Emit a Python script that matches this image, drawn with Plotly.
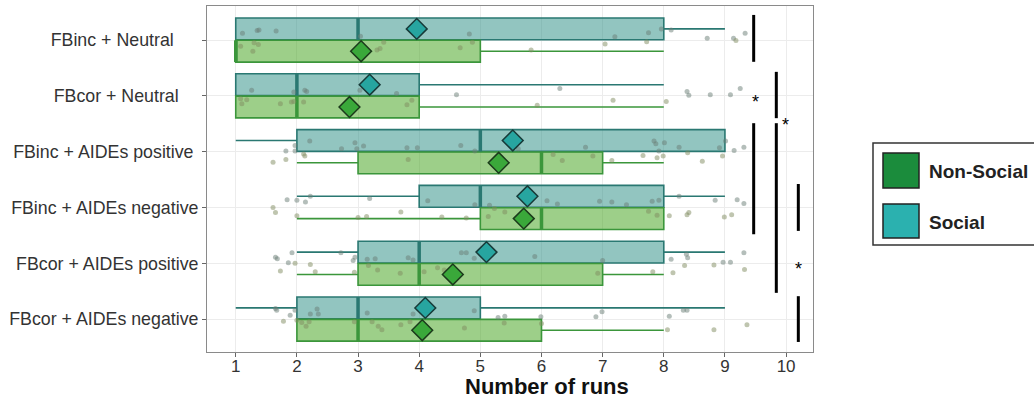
import plotly.graph_objects as go

# ---------------- data ----------------
categories = ["FBinc + Neutral", "FBcor + Neutral", "FBinc + AIDEs positive",
              "FBinc + AIDEs negative", "FBcor + AIDEs positive", "FBcor + AIDEs negative"]
label_pad = [5, 4, 1, 0, 0, 0]  # trailing blank padding seen in the original labels

social_q1 = [1, 1, 2, 4, 3, 2]
social_med = [3, 2, 5, 5, 4, 3]
social_q3 = [8, 4, 9, 8, 8, 5]
social_lo = [1, 1, 1, 2, 2, 1]
social_hi = [9, 8, 9, 9, 9, 9]
social_mean = [3.96, 3.19, 5.53, 5.77, 5.10, 4.10]

nonsocial_q1 = [1, 1, 3, 5, 3, 2]
nonsocial_med = [1, 2, 6, 6, 4, 3]
nonsocial_q3 = [5, 4, 7, 8, 7, 6]
nonsocial_lo = [1, 1, 2, 2, 2, 2]
nonsocial_hi = [8, 8, 8, 8, 8, 8]
nonsocial_mean = [3.05, 2.86, 5.30, 5.71, 4.55, 4.05]

# jittered raw observations (x value, vertical jitter relative to category centre)
point_x = [
    [1.11, 1.35, 1.38, 1.66, 3.04, 4.82, 7.20, 7.75, 7.96, 8.12, 8.71, 9.14, 9.18, 9.33,
     1.08, 1.30, 1.37, 1.28, 3.42, 3.31, 3.36, 4.67, 4.87, 5.83, 7.04, 7.72],
    [1.26, 1.95, 2.13, 2.16, 3.03, 3.63, 4.61, 6.30, 8.38, 8.41, 8.76, 9.09, 9.25,
     1.08, 1.18, 1.10, 1.73, 1.91, 1.95, 2.11, 3.80, 3.88, 5.93, 7.17, 8.04],
    [1.97, 2.21, 2.73, 2.95, 2.98, 3.09, 3.80, 3.97, 4.68, 4.91, 5.62, 6.72, 7.84, 7.87,
     8.01, 8.25, 8.91, 9.01, 9.15, 9.31, 1.61, 1.82, 1.82, 1.97, 2.11, 2.13, 3.82, 6.19,
     6.34, 6.84, 7.15, 7.66, 7.89, 7.92, 7.99, 8.39, 8.63, 8.96],
    [1.84, 2.00, 2.14, 2.22, 3.19, 4.14, 4.91, 5.15, 5.23, 6.09, 6.26, 6.95, 7.15, 7.39,
     7.81, 7.92, 8.25, 8.84, 9.20, 9.31, 1.61, 1.65, 2.00, 3.00, 3.14, 3.70, 4.37, 4.77,
     5.13, 5.40, 7.75, 7.89, 8.09, 8.38, 8.41, 8.99, 9.11],
    [1.65, 1.68, 1.92, 1.86, 1.97, 2.72, 2.92, 2.95, 3.15, 3.28, 3.82, 3.90, 4.69, 4.77,
     4.90, 5.89, 7.00, 8.12, 8.37, 8.39, 8.82, 8.97, 9.09, 9.31, 1.73, 2.22, 2.30, 2.94,
     3.17, 3.32, 3.69, 4.08, 4.30, 4.41, 6.92, 7.82, 8.15, 8.34, 9.32],
    [1.65, 1.67, 1.89, 1.97, 2.22, 2.33, 2.35, 3.15, 3.90, 4.90, 5.29, 5.40, 5.99, 6.89,
     6.99, 8.09, 8.32, 8.38, 1.78, 2.00, 2.08, 2.15, 2.20, 2.94, 3.23, 3.33, 3.39, 3.70,
     3.85, 4.74, 5.39, 6.00, 8.06, 8.82, 9.36],
]
point_dy = [
    [-0.12, -0.17, -0.18, -0.16, -0.07, -0.11, -0.06, -0.13, -0.20, -0.18, -0.03, -0.03, 0.01, -0.12,
     0.11, 0.05, 0.08, 0.20, 0.04, 0.18, 0.15, 0.14, 0.04, 0.18, 0.07, 0.03],
    [-0.10, -0.07, -0.10, -0.08, -0.10, -0.04, -0.02, -0.13, -0.08, -0.01, -0.02, -0.02, -0.13,
     0.05, 0.07, 0.14, 0.14, 0.11, 0.10, 0.11, 0.16, 0.08, 0.17, 0.08, 0.10],
    [-0.11, -0.19, -0.05, -0.16, -0.05, -0.10, -0.07, -0.07, -0.11, -0.01, -0.05, -0.08, -0.19, -0.14,
     -0.16, -0.08, -0.07, -0.19, -0.02, -0.08, 0.19, -0.01, 0.14, -0.01, 0.04, 0.08, 0.14, 0.05,
     0.16, 0.08, 0.16, 0.07, 0.11, -0.01, 0.08, 0.02, 0.17, 0.08],
    [-0.14, -0.13, -0.10, -0.20, -0.16, -0.12, -0.05, -0.04, 0.02, -0.12, -0.06, -0.11, -0.10, -0.05,
     -0.11, -0.13, -0.20, -0.13, -0.14, -0.07, 0.00, 0.09, 0.15, 0.18, 0.16, 0.08, 0.17, 0.19,
     0.16, 0.08, 0.07, 0.14, 0.15, 0.13, 0.09, 0.17, 0.13],
    [-0.11, -0.08, -0.19, -0.01, 0.00, -0.19, -0.05, -0.11, -0.07, -0.08, -0.10, -0.06, -0.19, -0.19,
     -0.09, -0.12, -0.05, -0.07, -0.16, -0.10, 0.03, -0.02, -0.02, -0.19, 0.14, 0.02, 0.15, 0.16,
     0.04, 0.12, 0.18, 0.15, 0.08, 0.12, 0.18, 0.15, 0.17, 0.04, 0.11],
    [-0.19, -0.16, -0.07, -0.16, -0.09, -0.18, -0.09, -0.11, -0.09, -0.15, -0.03, -0.05, -0.04, -0.04,
     -0.13, -0.05, -0.16, -0.16, 0.04, 0.02, 0.06, 0.13, 0.05, 0.05, 0.05, 0.13, 0.19, 0.10,
     0.05, 0.16, 0.07, 0.08, 0.19, 0.19, 0.10],
]

# significance bars: x position, y start, y end (in category units)
sig_bar_x = [9.47, 9.47, 9.84, 9.84, 10.20, 10.20]
sig_bar_y0 = [-0.45, 1.49, 0.57, 1.49, 2.58, 4.59]
sig_bar_y1 = [0.39, 3.48, 1.40, 4.53, 3.42, 5.41]
sig_star_x = [9.50, 9.99, 10.20]
sig_star_y = [1.04, 1.45, 4.03]

x_ticks = [1, 2, 3, 4, 5, 6, 7, 8, 9, 10]

# ---------------- style ----------------
FONT = "Liberation Sans, Arial, Helvetica, sans-serif"
SOC_FILL = "rgba(38,140,130,0.5)"
SOC_LINE = "#2a7872"
SOC_MEAN = "#27a5a0"
NS_FILL = "rgba(60,160,20,0.5)"
NS_LINE = "#3b963b"
NS_MEAN = "#3aa83a"
OFF = 0.2
BOXW = 0.39

W, H = 1034, 400
ML, MR, MT, MB = 207, 221, 6, 48
PW, PH = W - ML - MR, H - MT - MB

def px(xp):
    return (xp - ML) / PW

def py(yp):
    return (H - MB - yp) / PH

n = len(categories)
soc_pos = [i - OFF for i in range(n)]
ns_pos = [i + OFF for i in range(n)]

fig = go.Figure()

for pos, q1, med, q3, lo, hi, fill, line in [
    (soc_pos, social_q1, social_med, social_q3, social_lo, social_hi, SOC_FILL, SOC_LINE),
    (ns_pos, nonsocial_q1, nonsocial_med, nonsocial_q3, nonsocial_lo, nonsocial_hi, NS_FILL, NS_LINE),
]:
    fig.add_trace(go.Box(
        orientation="h", y=pos, q1=q1, median=med, q3=q3,
        lowerfence=lo, upperfence=hi, width=BOXW, whiskerwidth=0,
        fillcolor=fill, line=dict(color=line, width=1.6),
        boxpoints=False, showlegend=False, hoverinfo="skip",
    ))
    # thicker median bars
    mx, my = [], []
    for p, m in zip(pos, med):
        mx += [m, m, None]
        my += [p - BOXW / 2, p + BOXW / 2, None]
    fig.add_trace(go.Scatter(x=mx, y=my, mode="lines",
                             line=dict(color=line, width=3.5),
                             showlegend=False, hoverinfo="skip"))

# jittered points
sx, sy, nx, ny = [], [], [], []
for i in range(n):
    for xv, dv in zip(point_x[i], point_dy[i]):
        if dv < 0:
            sx.append(xv); sy.append(i + dv)
        else:
            nx.append(xv); ny.append(i + dv)
fig.add_trace(go.Scatter(x=sx, y=sy, mode="markers",
                         marker=dict(size=5, color="rgba(105,125,118,0.5)"),
                         showlegend=False, hoverinfo="skip"))
fig.add_trace(go.Scatter(x=nx, y=ny, mode="markers",
                         marker=dict(size=5, color="rgba(128,140,95,0.5)"),
                         showlegend=False, hoverinfo="skip"))

# means
fig.add_trace(go.Scatter(x=social_mean, y=soc_pos, mode="markers",
                         marker=dict(symbol="diamond", size=16, color=SOC_MEAN,
                                     line=dict(color="#173a38", width=1.5)),
                         showlegend=False, hoverinfo="skip"))
fig.add_trace(go.Scatter(x=nonsocial_mean, y=ns_pos, mode="markers",
                         marker=dict(symbol="diamond", size=16, color=NS_MEAN,
                                     line=dict(color="#1b3a1b", width=1.5)),
                         showlegend=False, hoverinfo="skip"))

shapes = []
for xv, y0, y1 in zip(sig_bar_x, sig_bar_y0, sig_bar_y1):
    shapes.append(dict(type="line", xref="x", yref="y", x0=xv, x1=xv, y0=y0, y1=y1,
                       line=dict(color="black", width=3)))

annotations = []
for xv, yv in zip(sig_star_x, sig_star_y):
    annotations.append(dict(x=xv, y=yv, xref="x", yref="y", text="*", showarrow=False,
                            font=dict(family=FONT, size=18, color="black"), yshift=-4))

# custom legend
shapes.append(dict(type="rect", xref="paper", yref="paper",
                   x0=px(873), x1=px(1045), y0=py(245), y1=py(143),
                   line=dict(color="#333333", width=1.5), fillcolor="white", layer="below"))
shapes.append(dict(type="rect", xref="paper", yref="paper",
                   x0=px(883), x1=px(919), y0=py(188), y1=py(153),
                   line=dict(color="#222222", width=1.5), fillcolor="#1b8c3c"))
shapes.append(dict(type="rect", xref="paper", yref="paper",
                   x0=px(883), x1=px(919), y0=py(238), y1=py(204),
                   line=dict(color="#222222", width=1.5), fillcolor="#2bb1af"))
annotations.append(dict(x=px(927), y=py(171), xref="paper", yref="paper", text="<b>Non-Social</b>",
                        showarrow=False, xanchor="left", yanchor="middle",
                        font=dict(family=FONT, size=19, color="#222222")))
annotations.append(dict(x=px(927), y=py(222), xref="paper", yref="paper", text="<b>Social</b>",
                        showarrow=False, xanchor="left", yanchor="middle",
                        font=dict(family=FONT, size=19, color="#222222")))
# x-axis title
annotations.append(dict(x=px(547), y=py(386), xref="paper", yref="paper", text="<b>Number of runs</b>",
                        showarrow=False, xanchor="center", yanchor="middle",
                        font=dict(family=FONT, size=22, color="#111111")))

ticktext = [c + "\u00a0" * p for c, p in zip(categories, label_pad)]

fig.update_layout(
    width=W, height=H,
    margin=dict(l=ML, r=MR, t=MT, b=MB, pad=0, autoexpand=False),
    paper_bgcolor="white", plot_bgcolor="white",
    font=dict(family=FONT, color="#333333"),
    shapes=shapes, annotations=annotations,
    hovermode=False,
    xaxis=dict(range=[0.53, 10.44], tickvals=x_ticks, ticktext=[str(t) for t in x_ticks],
               showgrid=True, gridcolor="#ececec", gridwidth=1, zeroline=False,
               showline=True, linecolor="#8a8a8a", linewidth=1, mirror=True,
               ticks="outside", ticklen=4, tickcolor="#666666", ticklabelstandoff=-5,
               automargin=False,
               tickfont=dict(family=FONT, size=17, color="#333333")),
    yaxis=dict(range=[5.59, -0.61], tickvals=list(range(n)), ticktext=ticktext,
               showgrid=True, gridcolor="#ececec", gridwidth=1, zeroline=False,
               showline=True, linecolor="#8a8a8a", linewidth=1, mirror=True,
               ticks="outside", ticklen=4, tickcolor="#666666", automargin=False,
               tickfont=dict(family=FONT, size=17.8, color="#333333")),
)

fig.write_html("out.html", config={"displayModeBar": False},
               post_script="document.body.style.margin='0';document.body.style.overflow='hidden';")
